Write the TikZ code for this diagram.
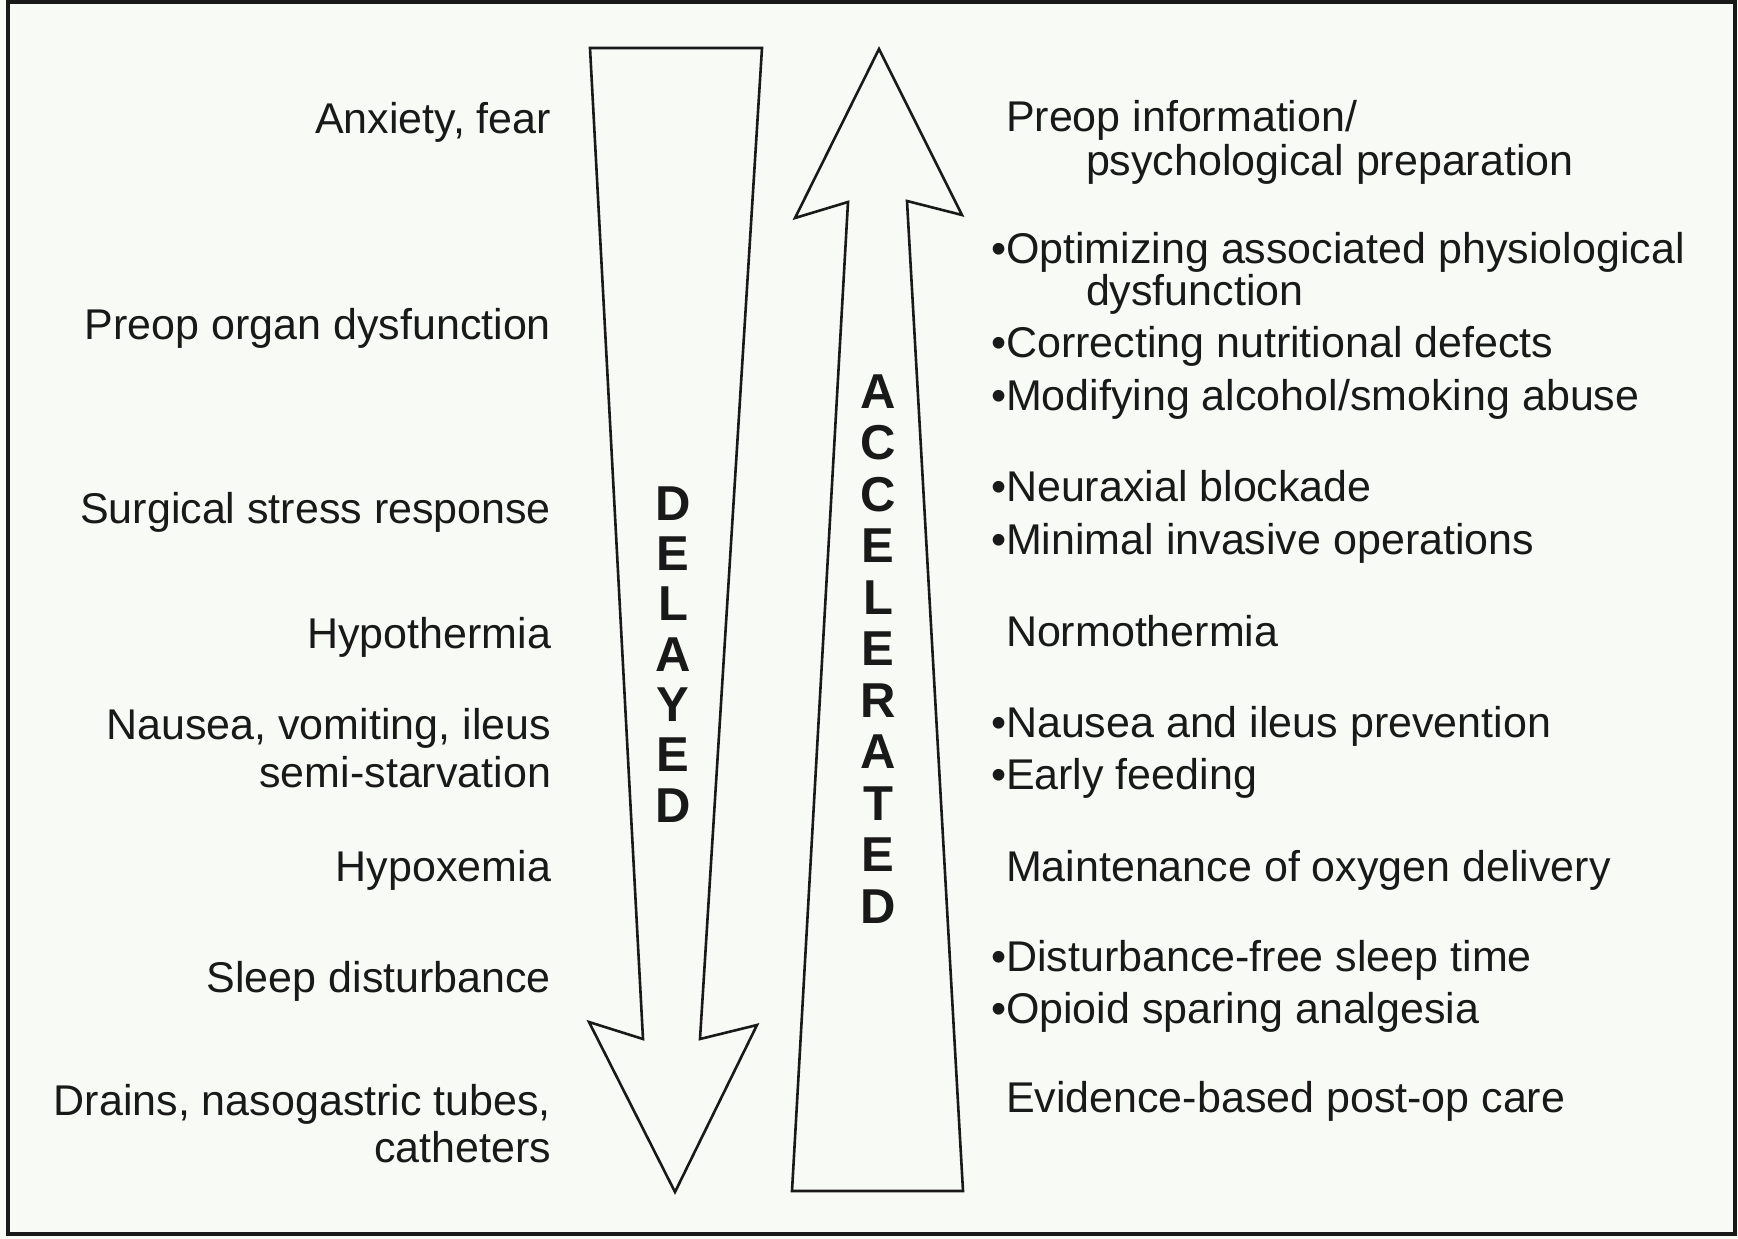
\documentclass[tikz,border=0pt]{standalone}
\usepackage{fontspec}
\setmainfont{Liberation Sans}
\definecolor{paper}{RGB}{248,250,245}
\definecolor{ink}{RGB}{25,25,25}
\begin{document}
\begin{tikzpicture}[x=1pt,y=-1pt,
  lbl/.style={inner sep=0pt, outer sep=0pt, text=ink, font=\fontsize{43}{44}\selectfont},
  lft/.style={lbl, anchor=base east, align=right},
  rgt/.style={lbl, anchor=base west, align=left},
  vword/.style={inner sep=0pt, outer sep=0pt, text=ink, align=center, anchor=north},
  arrowshape/.style={draw=ink, line width=2.6pt, line join=miter, fill=paper}]
\useasboundingbox (0,0) rectangle (1738,1239);
\fill[paper] (0,0) rectangle (1738,1239);
\draw[ink, line width=4pt] (8,2) rectangle (1735,1234);

% down arrow (delayed)
\draw[arrowshape] (590,48) -- (762,48) -- (700,1039) -- (757,1025) -- (675,1192)
  -- (589,1022) -- (643,1039) -- cycle;
% up arrow (accelerated)
\draw[arrowshape] (879,49) -- (962,215) -- (907,201) -- (963,1191) -- (792,1191)
  -- (848,202) -- (795,218) -- cycle;

\node[vword, font=\fontsize{49}{50.3}\selectfont\bfseries] (delayed) at (673,486.5)
  {D\\E\\L\\A\\Y\\E\\D};
\node[vword, font=\fontsize{49}{51.5}\selectfont\bfseries] (accel) at (878,374.5)
  {A\\C\\C\\E\\L\\E\\R\\A\\T\\E\\D};

% left column (multi-line nodes: base = last line)
\node[lft] (l1) at (551,133) {Anxiety, fear};
\node[lft] (l2) at (551,339) {Preop organ dysfunction};
\node[lft] (l3) at (551,523) {Surgical stress response};
\node[lft] (l4) at (551,648) {Hypothermia};
\node[lft, font=\fontsize{43}{48}\selectfont] (l5) at (551,787) {Nausea, vomiting, ileus\\semi-starvation};
\node[lft] (l6) at (551,881) {Hypoxemia};
\node[lft] (l7) at (551,992) {Sleep disturbance};
\node[lft, font=\fontsize{43}{47}\selectfont] (l8) at (551,1162) {Drains, nasogastric tubes,\\catheters};

% right column
\node[rgt, font=\fontsize{43}{44}\selectfont] (r1) at (1006,175) {Preop information/\\\hspace*{80pt}psychological preparation};
\node[rgt, font=\fontsize{43}{40}\selectfont] (r2) at (991,305) {•Optimizing associated physiological\\\hspace*{95pt}dysfunction};
\node[rgt] (r3) at (991,357) {•Correcting nutritional defects};
\node[rgt] (r4) at (991,410) {•Modifying alcohol/smoking abuse};
\node[rgt] (r5) at (991,501) {•Neuraxial blockade};
\node[rgt] (r6) at (991,554) {•Minimal invasive operations};
\node[rgt] (r7) at (1006,646) {Normothermia};
\node[rgt] (r8) at (991,737) {•Nausea and ileus prevention};
\node[rgt] (r9) at (991,789) {•Early feeding};
\node[rgt] (r10) at (1006,881) {Maintenance of oxygen delivery};
\node[rgt] (r11) at (991,971) {•Disturbance-free sleep time};
\node[rgt] (r12) at (991,1023) {•Opioid sparing analgesia};
\node[rgt] (r13) at (1006,1112) {Evidence-based post-op care};
\end{tikzpicture}
\end{document}
